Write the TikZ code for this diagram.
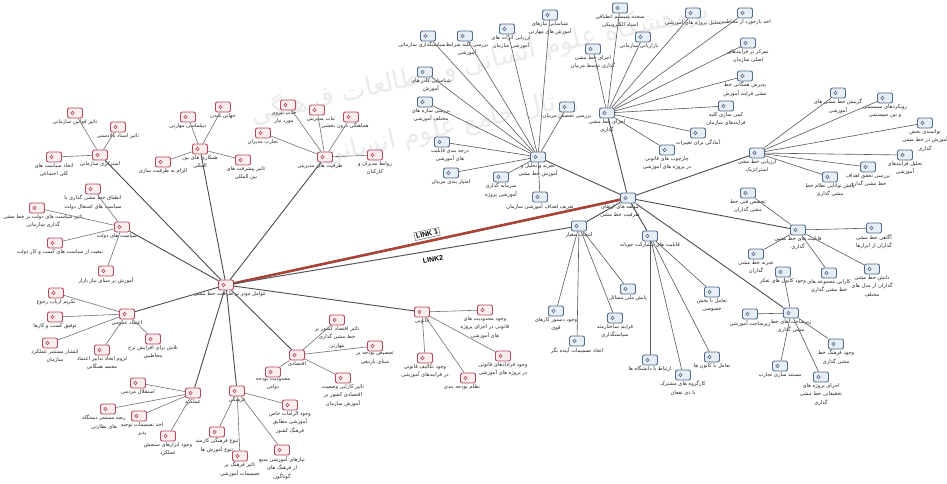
\documentclass[tikz,border=0pt]{standalone}
\usepackage{fontspec}
\TeXXeTstate=1
\newfontfamily\arabicfont[Script=Arabic]{DejaVu Sans}
\newfontfamily\linkfont{Liberation Sans}
\newcommand{\fa}[1]{\beginR #1\endR}
\definecolor{rb}{HTML}{B5485A}
\definecolor{rf}{HTML}{FCEDEF}
\definecolor{bb}{HTML}{4F6A8C}
\definecolor{bf}{HTML}{E8EEF6}
\definecolor{linkred}{HTML}{C0392B}
\tikzset{
 icon/.style={rounded corners=2pt, minimum width=15pt, minimum height=10pt, inner sep=0pt, line width=0.9pt},
 ricon/.style={icon, draw=rb, fill=rf, path picture={\draw[rb, line width=0.5pt, fill=rb!20] ([xshift=-2.5pt]path picture bounding box.center) circle (1.8pt);}},
 bicon/.style={icon, draw=bb, fill=bf, path picture={\draw[bb, line width=0.5pt, fill=bb!20] ([xshift=-2.5pt]path picture bounding box.center) circle (1.8pt);}},
 lbl/.style={font=\fontsize{5.2}{8.5}\selectfont\arabicfont, align=center, inner sep=0.5pt, text=black!85},
 br/.style={draw=black!70, line width=0.9pt},
 sb/.style={draw=black!55, line width=0.6pt},
 wm/.style={font=\fontsize{26}{28}\selectfont\arabicfont, text=black!8},
}
\newcommand{\nd}[6][]{\node[#5, label={[lbl,#1]below:{#6}}] (#2) at (#3,#4) {};}
\begin{document}
\begin{tikzpicture}[x=1pt,y=-1pt]
\useasboundingbox (0,0) rectangle (947,483);
\fill[white] (0,0) rectangle (947,483);
% watermark
\node[wm, rotate=13] (wm1) at (480,62) {\fa{پژوهشگاه علوم انسانی و مطالعات فرهنگی}};
\node[wm, rotate=13] (wm2) at (450,128) {\fa{پرتال جامع علوم انسانی}};

% ---------- left hub (red) ----------
\nd[xshift=4pt]{L0}{226}{285}{ricon}{\fa{عوامل موثر بر ظرفیت خط مشی}}
\nd{L1}{100}{155}{ricon}{\fa{استراتژی سازمانی}}
\nd{L1a}{75}{113}{ricon}{\fa{تاثیر قوانین سازمانی}}
\nd{L1b}{118}{127}{ricon}{\fa{تاثیر اسناد بالادستی}}
\nd{L1c}{54}{157}{ricon}{\fa{اتخاذ سیاست های}\\\fa{کلی اجتماعی}}
\nd[xshift=-5pt]{L2}{122}{227}{ricon}{\fa{سیاست های دولت}}
\nd{L2a}{93}{189}{ricon}{\fa{انطباق خط مشی گذاری با}\\\fa{سیاست های اشتغال دولت}}
\nd[xshift=6pt]{L2b}{37}{208}{ricon}{\fa{تاثیر سیاست های دولت بر خط مشی}\\\fa{گذاری سازمانی}}
\nd[xshift=5pt]{L2c}{55}{243}{ricon}{\fa{تبعیت از سیاست های کسب و کار دولت}}
\nd{L2d}{106}{271}{ricon}{\fa{آموزش بر مبنای نیاز بازار}}
\nd{L3}{127}{314}{ricon}{\fa{اعتماد عمومی}}
\nd{L3a}{56}{293}{ricon}{\fa{تکریم ارباب رجوع}}
\nd{L3b}{55}{317}{ricon}{\fa{توفیق کسب و کارها}}
\nd[xshift=5pt]{L3c}{50}{343}{ricon}{\fa{انتشار مستمر عملکرد}\\\fa{سازمان}}
\nd{L3d}{102}{350}{ricon}{\fa{لزوم اتخاذ تدابیر اعتماد}\\\fa{معتمد همگانی}}
\nd{L3e}{153}{339}{ricon}{\fa{تلاش برای افزایش نرخ}\\\fa{مخاطبین}}
\nd{L4}{193}{393}{ricon}{\fa{عملکرد}}
\nd{L4a}{138}{383}{ricon}{\fa{استقلال مردمی}}
\nd[xshift=-4pt]{L4b}{108}{409}{ricon}{\fa{رصد مستمر دستگاه}\\\fa{های نظارتی}}
\nd[xshift=3pt]{L4c}{139}{416}{ricon}{\fa{اخذ تصمیمات توجیه}\\\fa{پذیر}}
\nd{L4d}{168}{436}{ricon}{\fa{وجود ابزارهای سنجش}\\\fa{عملکرد}}
\nd{L5}{237}{391}{ricon}{\fa{فرهنگی}}
\nd{L5a}{217}{432}{ricon}{\fa{تنوع فرهنگی کارمند}\\\fa{تنوع آموزش ها}}
\nd{L5b}{240}{456}{ricon}{\fa{تاثیر فرهنگ بر}\\\fa{تصمیمات آموزشی}}
\nd{L5c}{290}{405}{ricon}{\fa{وجود الزامات خاص}\\\fa{آموزشی مطابق}\\\fa{فرهنگ کشور}}
\nd{L5d}{282}{450}{ricon}{\fa{نیازهای آموزشی منبع}\\\fa{از فرهنگ های}\\\fa{گوناگون}}
\nd{L6}{297}{355}{ricon}{\fa{اقتصادی}}
\nd{L6a}{337}{320}{ricon}{\fa{تاثیر اقتصاد کشور بر}\\\fa{خط مشی گذاری}\\\fa{مهارتی}}
\nd{L6b}{375}{346}{ricon}{\fa{تخصیص بودجه بر}\\\fa{مبنای بازدهی}}
\nd{L6c}{273}{372}{ricon}{\fa{محدودیت بودجه}\\\fa{دولتی}}
\nd{L6d}{343}{378}{ricon}{\fa{تاثیر کارایی وضعیت}\\\fa{اقتصادی کشور بر}\\\fa{آموزش سازمان}}
\nd{L7}{422}{312}{ricon}{\fa{قانونی}}
\nd{L7a}{485}{310}{ricon}{\fa{وجود محدودیت های}\\\fa{قانونی در اجرای پروژه}\\\fa{های آموزشی}}
\nd{L7b}{503}{356}{ricon}{\fa{وجود قرادادهای قانونی}\\\fa{در پروژه های آموزشی}}
\nd{L7c}{425}{358}{ricon}{\fa{وجود تکالیف قانونی}\\\fa{در فرایندهای آموزشی}}
\nd[xshift=-6pt]{L7d}{468}{378}{ricon}{\fa{نظام بودجه بندی}}
\nd[xshift=-5pt]{L8}{325}{157}{ricon}{\fa{ظرفیت های مدیریتی}}
\nd{L8a}{263}{133}{ricon}{\fa{تجارب مدیران}}
\nd[xshift=-4pt]{L8b}{288}{105}{ricon}{\fa{جذب نیروی}\\\fa{مورد نیاز}}
\nd[xshift=4pt]{L8c}{317}{110}{ricon}{\fa{ثبات مدیریتی}}
\nd[xshift=-6pt]{L8d}{351}{117}{ricon}{\fa{هماهنگی درون بخشی}}
\nd{L8e}{375}{155}{ricon}{\fa{روابط مدیران و}\\\fa{کارکنان}}
\nd{L9}{200}{149}{ricon}{\fa{همکاری های بین}\\\fa{المللی}}
\nd{L9a}{188}{117}{ricon}{\fa{دیپلماسی مهارتی}}
\nd{L9b}{223}{107}{ricon}{\fa{جهانی شدن}}
\nd{L9c}{163}{162}{ricon}{\fa{الزام به ظرفیت سازی}}
\nd[xshift=3pt]{L9d}{243}{160}{ricon}{\fa{تاثیر پیشرفت های}\\\fa{بین المللی}}

% ---------- right hub (blue) ----------
\nd[xshift=-8pt]{R0}{628}{198}{bicon}{\fa{مولفه های ارتقای}\\\fa{ظرفیت خط مشی}}
\nd{RA}{538}{157}{bicon}{\fa{تجربه و تحلیل و}\\\fa{آموزش خط مشی}}
\nd{RA1}{540}{197}{bicon}{\fa{تعریف اهداف آموزشی سازمان}}
\nd{RA2}{501}{177}{bicon}{\fa{سرمایه گذاری}\\\fa{آموزشی پروژه}}
\nd{RA3}{451}{173}{bicon}{\fa{امتیاز بندی مربیان}}
\nd[xshift=8pt]{RA4}{442}{142}{bicon}{\fa{درجه بندی قابلیت}\\\fa{های آموزشی}}
\nd[xshift=6pt]{RA5}{425}{102}{bicon}{\fa{بررسی سازه های}\\\fa{مختلف آموزشی}}
\nd[xshift=6pt]{RA6}{425}{72}{bicon}{\fa{شناسایی کادر های}\\\fa{آموزش}}
\nd[xshift=-6pt]{RA7}{428}{36}{bicon}{\fa{سیاستگذاری سازمانی}}
\nd[xshift=2pt]{RA8}{465}{36}{bicon}{\fa{بررسی کلیه شرایط}\\\fa{آموزشی}}
\nd[xshift=4pt]{RA9}{507}{29}{bicon}{\fa{ارزیابی اثرات های}\\\fa{آموزشی سازمان}}
\nd{RA10}{550}{15}{bicon}{\fa{شناسایی نیازهای}\\\fa{آموزش های مهارتی}}
\nd{RA11}{567}{107}{bicon}{\fa{بررسی تخصص مربیان}}
\nd{RB}{607}{113}{bicon}{\fa{اجرای خط مشی}\\\fa{گذاری}}
\nd{RB1}{593}{49}{bicon}{\fa{اجرای خط مشی}\\\fa{گذاری توسط مربیان}}
\nd{RB2}{620}{8}{bicon}{\fa{سخت سیستم انطباقی}\\\fa{اسناد الکترونیکی}}
\nd[xshift=-4pt]{RB3}{643}{37}{bicon}{\fa{بازاریابی سازمانی}}
\nd{RB4}{693}{13}{bicon}{\fa{تحلیل پروژه های آموزشی}}
\nd{RB5}{745}{13}{bicon}{\fa{اخذ بازخورد از مخاطبین}}
\nd{RB6}{748}{43}{bicon}{\fa{تمرکز بر فرایندهای}\\\fa{اصلی سازمان}}
\nd{RB7}{745}{76}{bicon}{\fa{پذیرش همگانی خط}\\\fa{مشی فرایند آموزش}}
\nd{RB8}{726}{106}{bicon}{\fa{کمی سازی کلیه}\\\fa{فرایندهای سازمان}}
\nd{RB9}{698}{133}{bicon}{\fa{آمادگی برای تغییرات}}
\nd{RB10}{667}{150}{bicon}{\fa{چارچوب های قانونی}\\\fa{در پروژه های آموزشی}}
\nd{RC}{757}{153}{bicon}{\fa{ارزیابی خط مشی}\\\fa{استراتژیک}}
\nd{RC1}{838}{93}{bicon}{\fa{گزینش خط مشی های}\\\fa{آموزشی}}
\nd{RC2}{885}{98}{bicon}{\fa{رویکردهای سیستمی}\\\fa{و بین سیستمی}}
\nd{RC3}{925}{123}{bicon}{\fa{توانمندی بخش}\\\fa{آموزش در خط مشی}\\\fa{گذاری}}
\nd{RC4}{905}{155}{bicon}{\fa{تحلیل فرایندهای}\\\fa{آموزشی}}
\nd{RC5}{868}{167}{bicon}{\fa{بررسی تحقق اهداف}\\\fa{خط مشی گذاری}}
\nd{RC6}{830}{177}{bicon}{\fa{پایش توانایی نظام خط}\\\fa{مشی گذاری}}
\nd{RD}{798}{230}{bicon}{\fa{قابلیت های خط مشی}\\\fa{گذاری}}
\nd{RD1}{748}{193}{bicon}{\fa{تخصص فنی خط}\\\fa{مشی گذاران}}
\nd{RD2}{874}{228}{bicon}{\fa{آگاهی خط مشی}\\\fa{گذاران از ابزارها}}
\nd{RD3}{756}{254}{bicon}{\fa{تجربه خط مشی}\\\fa{گذاران}}
\nd{RD4}{829}{273}{bicon}{\fa{کارایی مجموعه های}\\\fa{خط مشی گذاری}}
\nd{RD5}{872}{269}{bicon}{\fa{دانش خط مشی}\\\fa{گذاران از مدل های}\\\fa{مختلف}}
\nd{RE}{791}{313}{bicon}{\fa{زیرساخت های خط}\\\fa{مشی گذاری}}
\nd{RE1}{783}{272}{bicon}{\fa{وجود کانون های تفکر}}
\nd{RE2}{750}{314}{bicon}{\fa{زیرساخت آموزشی}}
\nd{RE3}{836}{344}{bicon}{\fa{وجود فرهنگ خط}\\\fa{مشی گذاری}}
\nd{RE4}{780}{366}{bicon}{\fa{مستند سازی تجارب}}
\nd{RE5}{821}{377}{bicon}{\fa{اجرای پروژه های}\\\fa{تحقیقاتی خط مشی}\\\fa{گذاری}}
\nd{RF}{650}{236}{bicon}{\fa{قابلیت های مشارکت جویانه}}
\nd{RF1}{712}{292}{bicon}{\fa{تعامل با بخش}\\\fa{خصوصی}}
\nd{RF2}{712}{357}{bicon}{\fa{تعامل با کانون ها}}
\nd{RF3}{683}{375}{bicon}{\fa{کارگروه های مشترک}\\\fa{با ذی نفعان}}
\nd{RF4}{650}{360}{bicon}{\fa{ارتباط با دانشگاه ها}}
\nd{RG}{579}{226}{bicon}{\fa{انتخاب معیار}}
\nd{RG1}{628}{289}{bicon}{\fa{پایش ملی مسائل}}
\nd{RG2}{556}{311}{bicon}{\fa{وجود دستور کارهای}\\\fa{قوی}}
\nd{RG3}{615}{318}{bicon}{\fa{فرایند ساختارمند}\\\fa{سیاستگذاری}}
\nd{RG4}{577}{341}{bicon}{\fa{اتخاذ تصمیمات آینده نگر}}

% ---------- connectors ----------
\foreach \a/\b in {L0/L1,L0/L2,L0/L3,L0/L4,L0/L5,L0/L6,L0/L7,L0/L8,L0/L9,
  R0/RA,R0/RB,R0/RC,R0/RD,R0/RE,R0/RF,R0/RG}
  \draw[br] (\a) -- (\b);
\foreach \a/\b in {L1/L1a,L1/L1b,L1/L1c,L2/L2a,L2/L2b,L2/L2c,L2/L2d,
  L3/L3a,L3/L3b,L3/L3c,L3/L3d,L3/L3e,L4/L4a,L4/L4b,L4/L4c,L4/L4d,
  L5/L5a,L5/L5b,L5/L5c,L5/L5d,L6/L6a,L6/L6b,L6/L6c,L6/L6d,
  L7/L7a,L7/L7b,L7/L7c,L7/L7d,L8/L8a,L8/L8b,L8/L8c,L8/L8d,L8/L8e,
  L9/L9a,L9/L9b,L9/L9c,L9/L9d}
  \draw[sb] (\a) -- (\b);
\foreach \a/\b in {RA/RA1,RA/RA2,RA/RA3,RA/RA4,RA/RA5,RA/RA6,RA/RA7,RA/RA8,RA/RA9,RA/RA10,RA/RA11,
  RB/RB1,RB/RB2,RB/RB3,RB/RB4,RB/RB5,RB/RB6,RB/RB7,RB/RB8,RB/RB9,RB/RB10,
  RC/RC1,RC/RC2,RC/RC3,RC/RC4,RC/RC5,RC/RC6,
  RD/RD1,RD/RD2,RD/RD3,RD/RD4,RD/RD5,
  RE/RE1,RE/RE2,RE/RE3,RE/RE4,RE/RE5,
  RF/RF1,RF/RF2,RF/RF3,RF/RF4,
  RG/RG1,RG/RG2,RG/RG3,RG/RG4}
  \draw[sb, draw=black!65] (\a) -- (\b);

% ---------- links ----------
\draw[draw=black!60, line width=2.6pt] (L0) -- (R0);
\draw[draw=linkred, line width=1.8pt] (L0) -- (R0);
\draw[draw=black!65, line width=1pt] (L0) -- (RG);
\node[draw=black!50, fill=white, line width=0.6pt, inner sep=1.5pt, rotate=12.2,
  font=\linkfont\bfseries\fontsize{7}{8}\selectfont] (link1) at (427,234) {LINK 1};
\node[inner sep=1pt, rotate=9.8, font=\linkfont\bfseries\fontsize{7}{8}\selectfont]
  (link2) at (433,259) {LINK2};
\end{tikzpicture}
\end{document}
